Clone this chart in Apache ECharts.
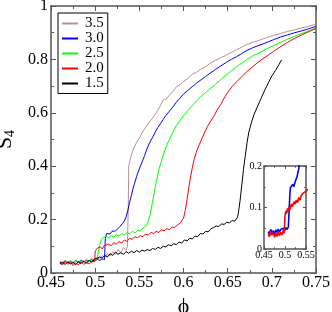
<!DOCTYPE html>
<html>
<head>
<meta charset="utf-8">
<script src="https://cdn.jsdelivr.net/npm/echarts@6/dist/echarts.min.js"></script>
<style>html,body{margin:0;padding:0;background:#fff}#c{width:332px;height:312px}</style>
</head>
<body>
<div id="c"></div>
<script>
var seriesNames = ['3.5', '3.0', '2.5', '2.0', '1.5'];
var xTickLabels = ['0.45', '0.5', '0.55', '0.6', '0.65', '0.7', '0.75'];
var yTickLabels = ['0', '0.2', '0.4', '0.6', '0.8', '1'];
var insetXTickLabels = ['0.45', '0.5', '0.55'];
var insetYTickLabels = ['0', '0.1', '0.2'];

var s35 = [[0.460,0.040],[0.463,0.035],[0.466,0.045],[0.469,0.038],[0.472,0.046],[0.475,0.036],[0.478,0.048],[0.481,0.040],[0.484,0.050],[0.487,0.041],[0.490,0.052],[0.493,0.044],[0.496,0.055],[0.499,0.048],[0.502,0.058],[0.505,0.052],[0.508,0.065],[0.511,0.058],[0.514,0.072],[0.517,0.064],[0.520,0.080],[0.523,0.070],[0.526,0.088],[0.529,0.075],[0.532,0.095],[0.535,0.085],[0.5365,0.100],[0.5375,0.250],[0.538,0.400],[0.540,0.430],[0.542,0.455],[0.544,0.470],[0.547,0.490],[0.550,0.505],[0.553,0.525],[0.556,0.540],[0.559,0.555],[0.562,0.568],[0.565,0.580],[0.568,0.595],[0.571,0.610],[0.574,0.628],[0.577,0.648],[0.580,0.650],[0.584,0.666],[0.588,0.680],[0.592,0.698],[0.596,0.705],[0.600,0.717],[0.605,0.728],[0.610,0.745],[0.615,0.752],[0.620,0.765],[0.625,0.772],[0.630,0.785],[0.636,0.796],[0.642,0.806],[0.648,0.815],[0.654,0.826],[0.660,0.836],[0.666,0.846],[0.672,0.856],[0.678,0.864],[0.684,0.870],[0.690,0.877],[0.696,0.884],[0.702,0.890],[0.710,0.897],[0.718,0.905],[0.726,0.911],[0.734,0.918],[0.742,0.924],[0.750,0.932]];

var s30 = [[0.460,0.042],[0.463,0.036],[0.466,0.047],[0.469,0.039],[0.472,0.044],[0.475,0.037],[0.478,0.046],[0.481,0.040],[0.484,0.048],[0.487,0.041],[0.490,0.047],[0.493,0.043],[0.496,0.050],[0.499,0.044],[0.502,0.052],[0.505,0.047],[0.508,0.053],[0.5105,0.050],[0.5115,0.130],[0.513,0.148],[0.515,0.152],[0.517,0.146],[0.519,0.156],[0.521,0.150],[0.523,0.158],[0.525,0.160],[0.527,0.170],[0.529,0.175],[0.531,0.186],[0.533,0.195],[0.535,0.210],[0.537,0.235],[0.539,0.265],[0.541,0.290],[0.543,0.318],[0.545,0.340],[0.547,0.362],[0.550,0.390],[0.553,0.415],[0.556,0.440],[0.559,0.468],[0.562,0.490],[0.565,0.508],[0.568,0.528],[0.571,0.545],[0.574,0.560],[0.577,0.575],[0.580,0.590],[0.584,0.606],[0.588,0.622],[0.592,0.640],[0.596,0.655],[0.600,0.670],[0.605,0.684],[0.610,0.698],[0.615,0.712],[0.620,0.724],[0.625,0.736],[0.630,0.748],[0.636,0.762],[0.642,0.775],[0.648,0.788],[0.654,0.800],[0.660,0.810],[0.666,0.822],[0.672,0.834],[0.678,0.843],[0.684,0.851],[0.690,0.858],[0.696,0.866],[0.702,0.874],[0.710,0.884],[0.718,0.892],[0.726,0.900],[0.734,0.907],[0.742,0.915],[0.750,0.924]];

var s25 = [[0.460,0.044],[0.463,0.038],[0.466,0.047],[0.469,0.040],[0.472,0.045],[0.475,0.039],[0.478,0.047],[0.481,0.041],[0.484,0.046],[0.487,0.040],[0.490,0.048],[0.493,0.042],[0.496,0.049],[0.499,0.043],[0.502,0.050],[0.504,0.052],[0.505,0.105],[0.507,0.124],[0.509,0.132],[0.511,0.125],[0.513,0.138],[0.515,0.130],[0.518,0.140],[0.521,0.134],[0.524,0.144],[0.527,0.138],[0.530,0.148],[0.533,0.142],[0.536,0.152],[0.539,0.146],[0.542,0.156],[0.545,0.150],[0.548,0.160],[0.551,0.158],[0.554,0.168],[0.557,0.175],[0.560,0.192],[0.562,0.215],[0.564,0.250],[0.566,0.285],[0.568,0.320],[0.570,0.352],[0.572,0.385],[0.575,0.420],[0.578,0.452],[0.581,0.478],[0.584,0.500],[0.588,0.528],[0.592,0.552],[0.596,0.572],[0.600,0.590],[0.605,0.608],[0.610,0.626],[0.615,0.646],[0.620,0.662],[0.625,0.676],[0.630,0.690],[0.636,0.706],[0.642,0.724],[0.648,0.740],[0.654,0.757],[0.660,0.772],[0.666,0.786],[0.672,0.800],[0.678,0.812],[0.684,0.822],[0.690,0.832],[0.696,0.842],[0.702,0.852],[0.710,0.864],[0.718,0.876],[0.726,0.887],[0.734,0.897],[0.742,0.907],[0.750,0.918]];

var s20 = [[0.460,0.036],[0.463,0.030],[0.466,0.042],[0.469,0.033],[0.472,0.040],[0.475,0.028],[0.478,0.038],[0.481,0.030],[0.484,0.042],[0.487,0.032],[0.490,0.040],[0.493,0.034],[0.496,0.045],[0.498,0.038],[0.4995,0.042],[0.500,0.080],[0.502,0.092],[0.504,0.085],[0.506,0.098],[0.508,0.090],[0.510,0.102],[0.512,0.095],[0.515,0.108],[0.518,0.102],[0.521,0.114],[0.524,0.108],[0.527,0.118],[0.530,0.112],[0.533,0.124],[0.536,0.118],[0.539,0.130],[0.542,0.126],[0.545,0.136],[0.548,0.132],[0.551,0.140],[0.554,0.136],[0.557,0.146],[0.560,0.142],[0.563,0.152],[0.566,0.148],[0.569,0.156],[0.572,0.152],[0.575,0.162],[0.578,0.158],[0.581,0.166],[0.584,0.162],[0.587,0.172],[0.590,0.170],[0.593,0.180],[0.596,0.186],[0.598,0.195],[0.600,0.205],[0.602,0.235],[0.604,0.275],[0.606,0.320],[0.608,0.360],[0.610,0.395],[0.612,0.425],[0.615,0.458],[0.618,0.482],[0.621,0.505],[0.624,0.528],[0.627,0.548],[0.630,0.565],[0.634,0.585],[0.638,0.610],[0.642,0.630],[0.646,0.655],[0.650,0.676],[0.655,0.698],[0.660,0.716],[0.666,0.736],[0.672,0.755],[0.678,0.772],[0.684,0.788],[0.690,0.803],[0.696,0.816],[0.702,0.830],[0.710,0.848],[0.718,0.864],[0.726,0.879],[0.734,0.892],[0.742,0.904],[0.750,0.916]];

var s15 = [[0.460,0.035],[0.463,0.040],[0.466,0.032],[0.469,0.042],[0.472,0.034],[0.475,0.040],[0.478,0.031],[0.481,0.043],[0.484,0.035],[0.487,0.045],[0.490,0.036],[0.493,0.048],[0.496,0.040],[0.499,0.052],[0.502,0.055],[0.505,0.060],[0.508,0.056],[0.511,0.066],[0.514,0.060],[0.517,0.072],[0.520,0.066],[0.523,0.078],[0.526,0.070],[0.529,0.076],[0.532,0.070],[0.535,0.080],[0.538,0.074],[0.541,0.082],[0.544,0.076],[0.547,0.084],[0.550,0.078],[0.553,0.086],[0.556,0.082],[0.559,0.088],[0.562,0.084],[0.565,0.092],[0.568,0.088],[0.571,0.096],[0.574,0.092],[0.577,0.100],[0.580,0.098],[0.583,0.106],[0.586,0.102],[0.589,0.110],[0.592,0.106],[0.595,0.116],[0.598,0.112],[0.601,0.124],[0.604,0.120],[0.607,0.130],[0.610,0.128],[0.613,0.138],[0.616,0.136],[0.619,0.148],[0.622,0.146],[0.625,0.156],[0.628,0.154],[0.631,0.166],[0.634,0.170],[0.637,0.176],[0.640,0.174],[0.643,0.184],[0.646,0.182],[0.649,0.190],[0.652,0.188],[0.655,0.196],[0.658,0.194],[0.661,0.208],[0.662,0.222],[0.664,0.270],[0.666,0.330],[0.668,0.390],[0.670,0.440],[0.672,0.490],[0.674,0.528],[0.677,0.565],[0.680,0.595],[0.684,0.625],[0.688,0.655],[0.692,0.685],[0.696,0.712],[0.700,0.738],[0.704,0.758],[0.708,0.780],[0.711,0.798]];

var colors = ['#bc8f8f', '#0000ff', '#00ff00', '#ff0000', '#000000'];
var mainData = [s35, s30, s25, s20, s15];

var FONT = "'Liberation Serif', 'DejaVu Serif', serif";
var AX = '#555';

function mkAxis(grid, pos, min, max, interval, labels, fs, tickLen, showLabel, margin) {
  return {
    type: 'value', gridIndex: grid, position: pos, min: min, max: max, interval: interval,
    axisLine: { show: true, onZero: false, lineStyle: { color: AX, width: 1.5 } },
    axisTick: { show: true, inside: true, length: tickLen, lineStyle: { color: AX, width: 1 } },
    minorTick: { show: true, splitNumber: 2, length: tickLen * 0.6, lineStyle: { color: AX, width: 1 } },
    splitLine: { show: false },
    axisLabel: {
      show: showLabel, margin: margin, fontFamily: FONT, fontSize: fs, color: '#000',
      formatter: function (v) { return labels[Math.round((v - min) / interval)]; }
    }
  };
}

var xAxes = [
  mkAxis(0, 'bottom', 0.45, 0.75, 0.05, xTickLabels, 16, 5, true, 2),
  mkAxis(0, 'top', 0.45, 0.75, 0.05, xTickLabels, 16, 5, false, 2),
  mkAxis(1, 'bottom', 0.45, 0.55, 0.05, insetXTickLabels, 10, 3, true, 1),
  mkAxis(1, 'top', 0.45, 0.55, 0.05, insetXTickLabels, 10, 3, false, 1)
];
var yAxes = [
  mkAxis(0, 'left', 0, 1, 0.2, yTickLabels, 16, 5, true, 3),
  mkAxis(0, 'right', 0, 1, 0.2, yTickLabels, 16, 5, false, 3),
  mkAxis(1, 'left', 0, 0.2, 0.1, insetYTickLabels, 10, 3, true, 2),
  mkAxis(1, 'right', 0, 0.2, 0.1, insetYTickLabels, 10, 3, false, 2)
];
xAxes[0].name = 'ϕ';
xAxes[0].nameLocation = 'middle';
xAxes[0].nameGap = 17;
xAxes[0].nameTextStyle = { fontFamily: FONT, fontSize: 22, color: '#000' };
yAxes[0].name = '{s|S}{sub|4}';
yAxes[0].nameLocation = 'middle';
yAxes[0].nameGap = 33;
yAxes[0].nameTextStyle = {
  rich: {
    s: { fontFamily: FONT, fontSize: 22, color: '#000' },
    sub: { fontFamily: FONT, fontSize: 14, color: '#000', padding: [10, 0, 0, 0] }
  }
};

var series = [];
for (var i = 0; i < mainData.length; i++) {
  series.push({
    name: seriesNames[i], type: 'line', xAxisIndex: 0, yAxisIndex: 0,
    data: mainData[i], symbol: 'none', clip: true,
    lineStyle: { color: colors[i], width: 1 }, itemStyle: { color: colors[i] }
  });
}
// inset: 3.0 (blue) and 2.0 (red)
[[1, s30], [3, s20]].forEach(function (p) {
  series.push({
    name: seriesNames[p[0]], type: 'line', xAxisIndex: 2, yAxisIndex: 2,
    data: p[1], symbol: 'none', clip: true,
    lineStyle: { color: colors[p[0]], width: 1.6 }, itemStyle: { color: colors[p[0]] }
  });
});

var chart = echarts.init(document.getElementById('c'), null, { renderer: 'canvas' });
chart.setOption({
  animation: false,
  backgroundColor: '#fff',
  grid: [
    { left: 51, right: 16, top: 6, bottom: 39, outerBoundsMode: 'none', containLabel: false },
    { left: 264, top: 166, width: 42, height: 83, show: true, backgroundColor: '#fff', borderWidth: 0, outerBoundsMode: 'none', containLabel: false }
  ],
  xAxis: xAxes,
  yAxis: yAxes,
  legend: {
    orient: 'vertical', left: 58, top: 13,
    data: seriesNames,
    icon: 'rect',
    itemWidth: 16, itemHeight: 2, itemGap: 0,
    padding: [3, 4, 2.5, 4],
    backgroundColor: '#fff', borderColor: '#000', borderWidth: 1, borderRadius: 0,
    textStyle: { fontFamily: FONT, fontSize: 15, color: '#000', padding: [0, 0, 0, 2], lineHeight: 14.7, height: 14.7 }
  },
  series: series
});
</script>
</body>
</html>
